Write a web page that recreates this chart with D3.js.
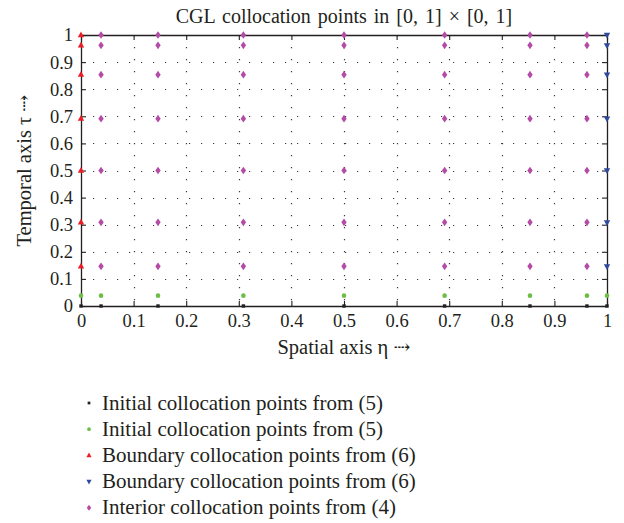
<!DOCTYPE html>
<html>
<head>
<meta charset="utf-8">
<script src="https://cdn.jsdelivr.net/npm/d3@7"></script>
<style>
  html, body { margin: 0; padding: 0; background: #fff; }
  svg text { font-family: "Liberation Serif", "DejaVu Serif", serif; fill: #231f20; }
</style>
</head>
<body>
<svg id="chart" width="624" height="523"></svg>
<script>
// Chebyshev–Gauss–Lobatto nodes on [0, 1] (N = 8)
const cglNodes = [0, 0.0381, 0.1464, 0.3087, 0.5, 0.6913, 0.8536, 0.9619, 1];
const interiorNodes = [0.0381, 0.1464, 0.3087, 0.5, 0.6913, 0.8536, 0.9619];
const upperTimeNodes = [0.1464, 0.3087, 0.5, 0.6913, 0.8536, 0.9619, 1];

// Point sets (eta, tau)
const initialAtZero = cglNodes.map(x => [x, 0]);
const initialAtFirst = cglNodes.map(x => [x, 0.0381]);
const boundaryLeft = upperTimeNodes.map(t => [0, t]);
const boundaryRight = upperTimeNodes.map(t => [1, t]);
const interiorPts = upperTimeNodes.flatMap(t => interiorNodes.map(x => [x, t]));

const tickValues = [0, 0.1, 0.2, 0.3, 0.4, 0.5, 0.6, 0.7, 0.8, 0.9, 1];
const legendLabels = [
  "Initial collocation points from (5)",
  "Initial collocation points from (5)",
  "Boundary collocation points from (6)",
  "Boundary collocation points from (6)",
  "Interior collocation points from (4)"
];

const seriesDefs = [
  { pts: initialAtZero, color: "#231f20", shape: "square" },
  { pts: initialAtFirst, color: "#6dbe45", shape: "circle" },
  { pts: boundaryLeft, color: "#ed1c24", shape: "up" },
  { pts: boundaryRight, color: "#2e4a9e", shape: "down" },
  { pts: interiorPts, color: "#b44ba6", shape: "diamond" }
];

const svg = d3.select("#chart");
const margin = { left: 81, right: 17, top: 35, bottom: 217 };
const W = 624, H = 523;
const x = d3.scaleLinear().domain([0, 1]).range([margin.left, W - margin.right]);
const y = d3.scaleLinear().domain([0, 1]).range([H - margin.bottom, margin.top]);

// dotted grid
const grid = svg.append("g").attr("stroke", "#3a3a3a").attr("stroke-width", 1.2)
  .attr("stroke-dasharray", "1.2,10.8");
grid.selectAll(".gx").data(tickValues.slice(1, -1)).join("line")
  .attr("x1", d => Math.round(x(d)) + 0.5).attr("x2", d => Math.round(x(d)) + 0.5)
  .attr("y1", y(1)).attr("y2", y(0));
grid.selectAll(".gy").data(tickValues.slice(1, -1)).join("line")
  .attr("y1", d => Math.round(y(d)) + 0.5).attr("y2", d => Math.round(y(d)) + 0.5)
  .attr("x1", x(0)).attr("x2", x(1));

// axes with inward ticks on all four sides
const fmt = d => d === 0 ? "0" : d === 1 ? "1" : d3.format(".1f")(d);
function styleAxis(g) {
  g.attr("font-family", null).attr("font-size", null);
  g.select(".domain").attr("stroke", "#231f20").attr("stroke-width", 1.3);
  g.selectAll(".tick line").attr("stroke", "#231f20").attr("stroke-width", 1.1);
  g.selectAll(".tick text").style("font-size", "18.5px").attr("fill", "#231f20");
}
svg.append("g").attr("transform", `translate(0,${y(0)})`)
  .call(d3.axisBottom(x).tickValues(tickValues).tickFormat(fmt).tickSizeInner(-5).tickSizeOuter(0).tickPadding(8))
  .call(styleAxis);
svg.append("g").attr("transform", `translate(0,${y(1)})`)
  .call(d3.axisTop(x).tickValues(tickValues).tickFormat("").tickSizeInner(-5).tickSizeOuter(0))
  .call(styleAxis);
svg.append("g").attr("transform", `translate(${x(0)},0)`)
  .call(d3.axisLeft(y).tickValues(tickValues).tickFormat(fmt).tickSizeInner(-5).tickSizeOuter(0).tickPadding(8))
  .call(styleAxis);
svg.append("g").attr("transform", `translate(${x(1)},0)`)
  .call(d3.axisRight(y).tickValues(tickValues).tickFormat("").tickSizeInner(-5).tickSizeOuter(0))
  .call(styleAxis);

// marker shapes
function markerPath(shape) {
  switch (shape) {
    case "square": return "M-1.7,-1.7H1.7V1.7H-1.7Z";
    case "circle": return "M2.3,0A2.3,2.3 0 1,1 -2.3,0A2.3,2.3 0 1,1 2.3,0Z";
    case "up": return "M0,-3.6L3.2,2.2H-3.2Z";
    case "down": return "M0,3.6L3.2,-2.2H-3.2Z";
    case "diamond": return "M0,-3.8L2.7,0L0,3.8L-2.7,0Z";
  }
}

seriesDefs.forEach(s => {
  svg.append("g").selectAll("path").data(s.pts).join("path")
    .attr("transform", d => `translate(${x(d[0])},${y(d[1])})`)
    .attr("d", markerPath(s.shape))
    .attr("fill", s.color);
});

// title and axis labels
svg.append("text").attr("x", (x(0) + x(1)) / 2).attr("y", 23)
  .attr("text-anchor", "middle").style("font-size", "20px").style("word-spacing", "2px")
  .text("CGL collocation points in [0, 1] × [0, 1]");
svg.append("text").attr("x", (x(0) + x(1)) / 2).attr("y", 354)
  .attr("text-anchor", "middle").style("font-size", "20.5px")
  .text("Spatial axis η ⇢");
svg.append("text").attr("transform", `translate(31,${(y(0) + y(1)) / 2}) rotate(-90)`)
  .attr("text-anchor", "middle").style("font-size", "20.5px")
  .text("Temporal axis τ ⇢");

// legend
const legend = svg.append("g");
legendLabels.forEach((lab, i) => {
  const ly = 403 + i * 26.2;
  legend.append("path")
    .attr("d", markerPath(seriesDefs[i].shape)).attr("fill", seriesDefs[i].color)
    .attr("transform", `translate(89,${ly}) scale(0.8)`);
  legend.append("text").attr("x", 102).attr("y", ly + 6.5)
    .style("font-size", "21px").text(lab);
});
</script>
</body>
</html>
